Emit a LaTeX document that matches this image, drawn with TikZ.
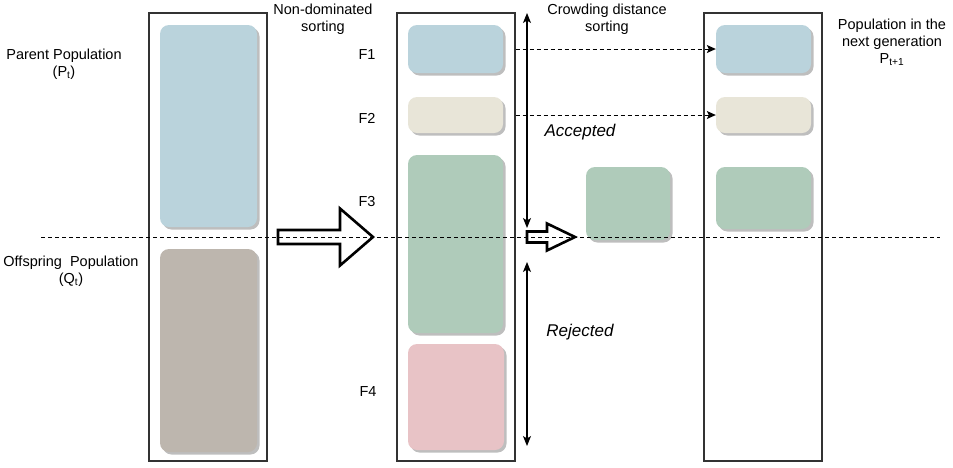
\documentclass[tikz,border=0pt]{standalone}
\usepackage{fontspec}
\setmainfont{Liberation Sans}
\usetikzlibrary{arrows.meta,shadows}
\definecolor{boxline}{HTML}{333333}
\definecolor{cblue}{HTML}{BAD3DC}
\definecolor{cbeige}{HTML}{E8E5D8}
\definecolor{cgreen}{HTML}{AFCBBA}
\definecolor{cpink}{HTML}{E8C3C6}
\definecolor{cbrown}{HTML}{BDB6AE}
\definecolor{cshadow}{HTML}{BEBEBE}
\begin{document}
\begin{tikzpicture}[x=1pt,y=-1pt,
  popbox/.style={draw=boxline, line width=1.1pt, inner sep=0,
    minimum width=118pt, minimum height=448pt},
  blk/.style={rounded corners=9pt, inner sep=0,
    drop shadow={shadow xshift=2.5pt, shadow yshift=-2.5pt, fill=cshadow, opacity=1}},
  lbl/.style={font=\fontsize{14.5}{17}\selectfont, align=center, inner sep=0},
  note/.style={font=\fontsize{17}{20}\selectfont\itshape, inner sep=0},
  hollow/.style={draw=black, line width=2.6pt, line join=miter, miter limit=20},
  guide/.style={dashed, dash pattern=on 4pt off 3pt, line width=0.9pt},
  spanarrow/.style={line width=1.1pt, {Stealth[length=10pt,width=8pt,inset=2.5pt]}-{Stealth[length=10pt,width=8pt,inset=2.5pt]}},
  keep/.style={dashed, dash pattern=on 4pt off 3pt, line width=0.9pt, -{Stealth[length=9pt,width=8pt,inset=2pt]}}
]
\useasboundingbox (0,0) rectangle (953,467);

% population columns
\node[popbox] (leftbox) at (208,237) {};
\node[popbox] (midbox)  at (456,237) {};
\node[popbox] (rightbox) at (763,237) {};

% parent and offspring populations
\node[blk, fill=cblue,  minimum width=97pt, minimum height=202pt] (pt) at (208.5,126) {};
\node[blk, fill=cbrown, minimum width=97pt, minimum height=203pt] (qt) at (208.5,350.5) {};

% fronts after non-dominated sorting
\node[blk, fill=cblue,  minimum width=95pt, minimum height=48pt]  (f1) at (455.5,49) {};
\node[blk, fill=cbeige, minimum width=95pt, minimum height=36pt]  (f2) at (455.5,115) {};
\node[blk, fill=cgreen, minimum width=95pt, minimum height=178pt] (f3) at (455.5,244) {};
\node[blk, fill=cpink,  minimum width=96pt, minimum height=106pt] (f4) at (456,397) {};

% part of F3 kept after crowding distance sorting
\node[blk, fill=cgreen, minimum width=84pt, minimum height=73pt] (f3cut) at (628,203.5) {};

% next generation
\node[blk, fill=cblue,  minimum width=95pt, minimum height=48pt] (r1) at (763.5,49) {};
\node[blk, fill=cbeige, minimum width=95pt, minimum height=36pt] (r2) at (763.5,115) {};
\node[blk, fill=cgreen, minimum width=95pt, minimum height=62pt] (r3) at (763.5,198) {};

% labels
\node[lbl] (lparent) at (64,64) {Parent Population\\(P\textsubscript{t})};
\node[lbl] (loff) at (71,271) {Offspring\ \ Population\\(Q\textsubscript{t})};
\node[lbl] (lnds) at (323,19) {Non-dominated\\sorting};
\node[lbl] (lcds) at (607,19) {Crowding distance\\sorting};
\node[lbl] (lnext) at (892,42) {Population in the\\next generation\\P\textsubscript{t+1}};
\node[lbl] (lf1) at (367,55) {F1};
\node[lbl] (lf2) at (367,118) {F2};
\node[lbl] (lf3) at (367,202) {F3};
\node[lbl] (lf4) at (368,392) {F4};
\node[note] (lacc) at (580,132) {Accepted};
\node[note] (lrej) at (580,332) {Rejected};

% hollow process arrows
\draw[hollow] (278,230) -- (340,230) -- (340,208.5) -- (373,237) -- (340,265.5) -- (340,244) -- (278,244) -- cycle;
\draw[hollow] (527,231.5) -- (547,231.5) -- (547,223.5) -- (575,237) -- (547,250.5) -- (547,242.5) -- (527,242.5) -- cycle;

% accepted / rejected ranges
\coordinate (acctop) at (527,13);
\coordinate (accbot) at (527,228);
\coordinate (rejtop) at (527,262);
\coordinate (rejbot) at (527,446);
\draw[spanarrow] (acctop) -- (accbot);
\draw[spanarrow] (rejtop) -- (rejbot);

% fronts copied into the next generation
\draw[keep] (midbox.east |- f1) -- (r1.west);
\draw[keep] (midbox.east |- f2) -- (r2.west);

% population size cut line
\coordinate (cutl) at (41,237);
\coordinate (cutr) at (940,237);
\draw[guide] (cutl) -- (cutr);
\end{tikzpicture}
\end{document}
